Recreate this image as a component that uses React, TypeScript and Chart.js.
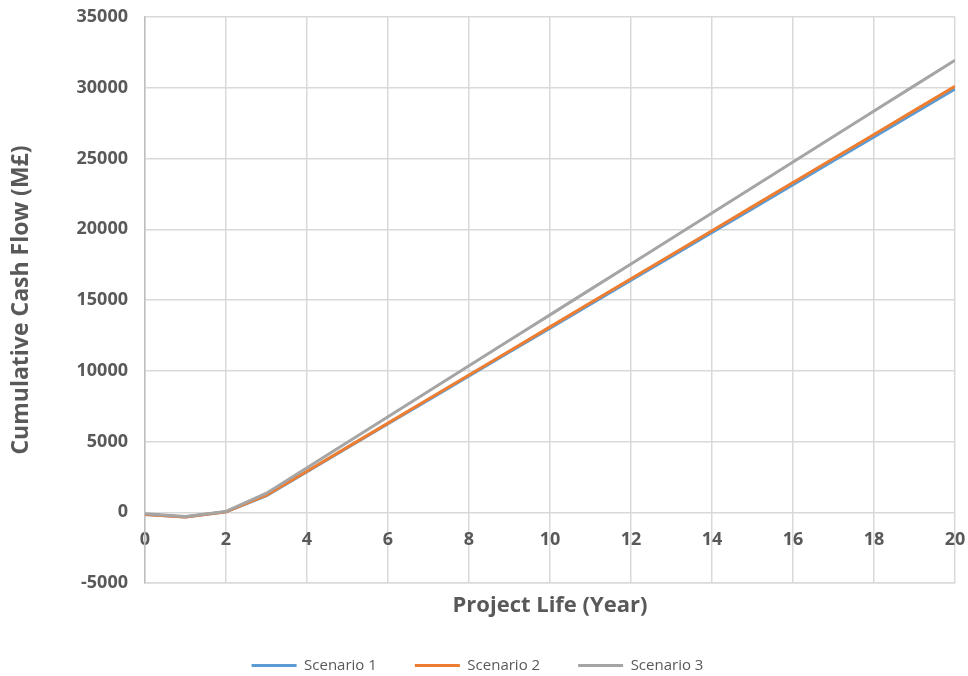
import React, { useEffect, useRef } from "react";
import { Chart, registerables } from "chart.js";

Chart.register(...registerables);

const years = [0, 1, 2, 3, 4, 5, 6, 7, 8, 9, 10, 11, 12, 13, 14, 15, 16, 17, 18, 19, 20];
const scenario1 = [-150, -330, 30, 1180, 2870, 4560, 6250, 7940, 9630, 11320, 13010, 14700, 16390, 18080, 19770, 21460, 23150, 24840, 26530, 28220, 29910];
const scenario2 = [-150, -330, 40, 1200, 2900, 4600, 6300, 8000, 9700, 11400, 13100, 14800, 16500, 18200, 19900, 21600, 23300, 25000, 26700, 28400, 30100];
const scenario3 = [-100, -300, 60, 1350, 3150, 4950, 6750, 8550, 10350, 12150, 13950, 15750, 17550, 19350, 21150, 22950, 24750, 26550, 28350, 30150, 31950];
const seriesNames = ["Scenario 1", "Scenario 2", "Scenario 3"];
const seriesColors = ["#5b9bd5", "#ed7d31", "#a5a5a5"];

const FONT = "'Open Sans', 'Noto Sans', sans-serif";
const TEXT = "#595959";
const GRID = "#d9d9d9";

export default function App() {
  const ref = useRef<HTMLCanvasElement | null>(null);
  useEffect(() => {
    document.body.style.margin = "0";
    if (!ref.current) return;
    const all = [scenario1, scenario2, scenario3];
    const chart = new Chart(ref.current, {
      type: "line",
      data: {
        datasets: all.map((vals, i) => ({
          label: seriesNames[i],
          data: vals.map((v, j) => ({ x: years[j], y: v })),
          borderColor: seriesColors[i],
          backgroundColor: seriesColors[i],
          borderWidth: 3,
          pointRadius: 0,
          tension: 0,
          order: 3 - i,
          xAxisID: "x",
          yAxisID: "y",
        })),
      },
      options: {
        animation: false,
        responsive: false,
        maintainAspectRatio: false,
        layout: { padding: { top: 17, right: 13, left: 0, bottom: -7 } },
        plugins: {
          tooltip: { enabled: false },
          legend: {
            position: "bottom",
            labels: {
              font: { family: FONT, size: 15 },
              color: TEXT,
              boxWidth: 45,
              boxHeight: 3,
              padding: 38,
              sort: (a: any, b: any) => a.datasetIndex - b.datasetIndex,
              generateLabels: (c: any) =>
                Chart.defaults.plugins.legend.labels.generateLabels(c).map((it: any) => ({
                  ...it,
                  fillStyle: seriesColors[it.datasetIndex],
                  lineWidth: 0,
                })),
            },
          },
        },
        scales: {
          x: {
            type: "linear",
            position: "bottom",
            min: 0,
            max: 20,
            ticks: { stepSize: 2, display: false, padding: 0 },
            grid: { color: GRID, lineWidth: 1.5, drawTicks: false },
            border: { color: GRID, width: 1.5 },
            title: {
              display: true,
              text: "Project Life (Year)",
              font: { family: FONT, size: 22, weight: "bold" },
              color: TEXT,
              padding: { top: 0, bottom: 1 },
            },
            afterFit: (s: any) => {
              s.height = 37;
            },
          },
          x2: {
            type: "linear",
            axis: "x",
            position: { y: 0 },
            min: 0,
            max: 20,
            ticks: {
              stepSize: 2,
              padding: 0,
              font: { family: FONT, size: 18, weight: "bold" },
              color: TEXT,
              callback: (v: any) => String(v),
            },
            grid: {
              display: true,
              drawOnChartArea: false,
              drawTicks: true,
              tickLength: 17,
              tickColor: "rgba(0,0,0,0)",
            },
            border: { display: false },
            afterFit: (s: any) => {
              s.height = 0;
            },
          },
          y: {
            type: "linear",
            min: -5000,
            max: 35000,
            ticks: {
              stepSize: 5000,
              padding: 0,
              font: { family: FONT, size: 18, weight: "bold" },
              color: TEXT,
              callback: (v: any) => String(v),
            },
            grid: {
              color: GRID,
              lineWidth: 1.5,
              drawTicks: true,
              tickLength: 17,
              tickColor: "rgba(0,0,0,0)",
            },
            border: { color: "#bfbfbf", width: 1.5 },
            title: {
              display: true,
              text: "Cumulative Cash Flow (M£)",
              font: { family: FONT, size: 23, weight: "bold" },
              color: TEXT,
              padding: { top: 8, bottom: 0 },
            },
            afterFit: (s: any) => {
              s.width = 145;
            },
          },
        },
      } as any,
    });
    return () => chart.destroy();
  }, []);
  return (
    <div style={{ width: 968, height: 676, background: "#fff" }}>
      <canvas ref={ref} width={968} height={676} style={{ display: "block" }} />
    </div>
  );
}
